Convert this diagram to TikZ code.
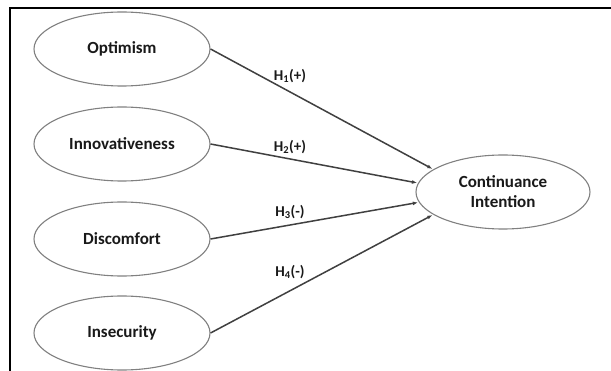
\documentclass[tikz,border=0pt]{standalone}
\usepackage{fontspec}
\setmainfont{Carlito}
\usetikzlibrary{shapes.geometric,arrows.meta}
\begin{document}
\begin{tikzpicture}[x=1pt,y=-1pt,
  construct/.style={ellipse,draw=black!50,line width=1.1pt,minimum width=176pt,minimum height=74pt,inner sep=0pt,font=\fontsize{17}{20}\selectfont\bfseries,text=black!90,align=center},
  path/.style={draw=black!75,line width=1.5pt,-{Latex[length=5pt,width=4pt]},shorten >=1pt},
  hyp/.style={font=\fontsize{15}{17}\selectfont\bfseries,text=black!90,inner sep=0pt}]
\useasboundingbox (0,0) rectangle (611,371);
\fill[white] (0,0) rectangle (611,371);
\draw[line width=2pt,black] (10,371) -- (10,8.5) -- (611,8.5);
\node[construct] (opt) at (122,49) {Optimism};
\node[construct] (inn) at (122,144) {Innovativeness};
\node[construct] (dis) at (122,239) {Discomfort};
\node[construct] (ins) at (122,333) {Insecurity};
\node[construct,minimum width=174pt,minimum height=74pt] (ci) at (503,192) {Continuance\\Intention};
\draw[path] (opt.east) -- (ci.162);
\draw[path] (inn.east) -- (ci.174);
\draw[path] (dis.east) -- (ci.187);
\draw[path] (ins.east) -- (ci.198);
\node[hyp] (h1) at (290,76) {H\textsubscript{1}(+)};
\node[hyp] (h2) at (290,147) {H\textsubscript{2}(+)};
\node[hyp] (h3) at (290,212) {H\textsubscript{3}(-)};
\node[hyp] (h4) at (290,272) {H\textsubscript{4}(-)};
\end{tikzpicture}
\end{document}
